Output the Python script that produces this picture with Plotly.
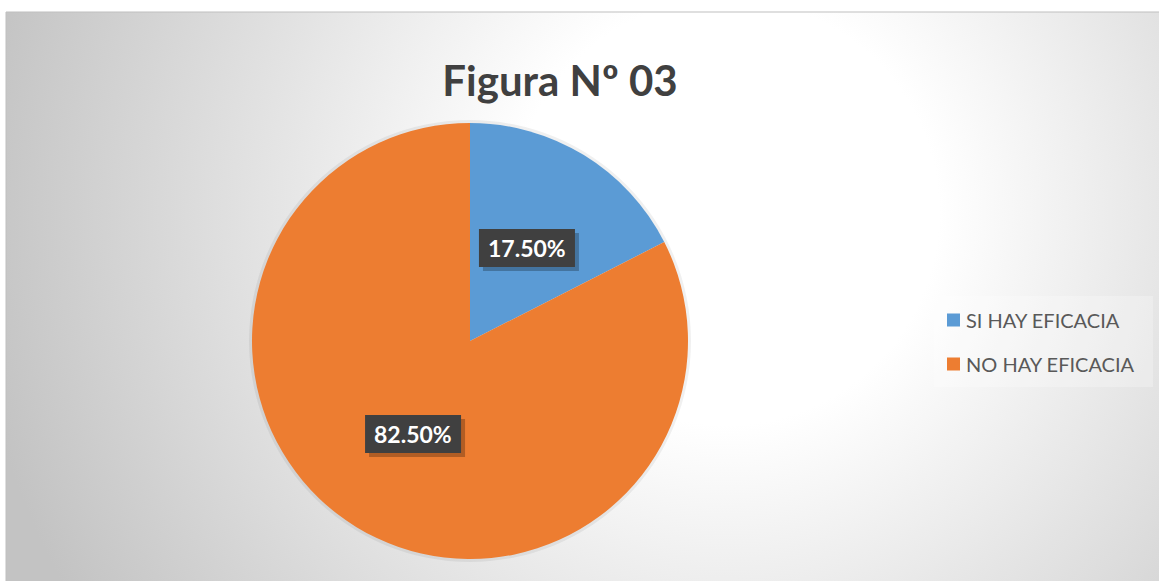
import base64
import math
import plotly.graph_objects as go

# ---- data ----
categories = ["SI HAY EFICACIA", "NO HAY EFICACIA"]
values = [17.5, 82.5]
label_texts = ["17.50%", "82.50%"]
colors = ["#5B9BD5", "#ED7D31"]
title_text = "Figura Nº 03"

W, H = 1159, 581
CX, CY, R = 470, 341, 218  # pie centre / radius in px
BW, BH = 96, 38            # label box size in px


def px(x):
    return x / W


def py(y):
    return 1 - y / H


# radial gradient background as inline svg
svg = f'''<svg xmlns="http://www.w3.org/2000/svg" width="{W-6}" height="{H-12}" viewBox="0 0 {W-6} {H-12}">
<defs><radialGradient id="g" gradientUnits="userSpaceOnUse" cx="720" cy="200" r="760">
<stop offset="0" stop-color="#ffffff"/><stop offset="0.28" stop-color="#ffffff"/>
<stop offset="0.6" stop-color="#e4e4e4"/><stop offset="1" stop-color="#c3c3c3"/></radialGradient></defs>
<rect width="100%" height="100%" fill="url(#g)"/></svg>'''
src = "data:image/svg+xml;base64," + base64.b64encode(svg.encode()).decode()

fig = go.Figure(go.Pie(
    labels=categories, values=values, sort=False, direction="clockwise", rotation=0,
    marker=dict(colors=colors, line=dict(width=0)), textinfo="none", hoverinfo="label+percent",
    domain=dict(x=[px(CX - R), px(CX + R)], y=[py(CY + R), py(CY - R)]),
    showlegend=False,
))

annotations = []
shapes = [
    dict(type="line", xref="paper", yref="paper", x0=px(6), x1=1, y0=py(12), y1=py(12),
         line=dict(color="#bfbfbf", width=1)),
    dict(type="line", xref="paper", yref="paper", x0=px(6), x1=px(6), y0=0, y1=py(12),
         line=dict(color="#bfbfbf", width=1)),
    dict(type="rect", xref="paper", yref="paper", x0=px(934), x1=px(1153), y0=py(387), y1=py(296),
         fillcolor="rgba(255,255,255,0.25)", line=dict(width=0), layer="below"),
    # soft glow around the pie
    dict(type="circle", xref="paper", yref="paper", x0=px(CX - R - 3), x1=px(CX + R + 3),
         y0=py(CY + R + 3), y1=py(CY - R - 3), fillcolor="rgba(0,0,0,0.06)", line=dict(width=0),
         layer="below"),
]

# data labels at mid-angle of each slice
total = sum(values)
cum = 0
for v, t in zip(values, label_texts):
    mid = (cum + v / 2) / total * 2 * math.pi
    cum += v
    lx = CX + 0.5 * R * math.sin(mid)
    ly = CY - 0.5 * R * math.cos(mid)
    # shadow
    shapes.append(dict(type="rect", xref="paper", yref="paper",
                       x0=px(lx - BW / 2 + 4), x1=px(lx + BW / 2 + 4),
                       y0=py(ly + BH / 2 + 4), y1=py(ly - BH / 2 + 4),
                       fillcolor="rgba(0,0,0,0.25)", line=dict(width=0)))
    shapes.append(dict(type="rect", xref="paper", yref="paper",
                       x0=px(lx - BW / 2), x1=px(lx + BW / 2),
                       y0=py(ly + BH / 2), y1=py(ly - BH / 2),
                       fillcolor="#404040", line=dict(width=0)))
    annotations.append(dict(x=px(lx), y=py(ly), xref="paper", yref="paper", text="<b>" + t + "</b>",
                            xanchor="center", yanchor="middle",
                            showarrow=False, font=dict(family="Lato", size=23, color="white")))

# legend (manual)
leg_y = [320, 364]
for cat, col, yy in zip(categories, colors, leg_y):
    shapes.append(dict(type="rect", xref="paper", yref="paper", x0=px(947), x1=px(960),
                       y0=py(yy + 6.5), y1=py(yy - 6.5), fillcolor=col, line=dict(width=0)))
    annotations.append(dict(x=px(964), y=py(yy), xref="paper", yref="paper", text=cat, showarrow=False,
                            xanchor="left", yanchor="middle",
                            font=dict(family="Lato", size=20, color="#595959")))

fig.update_layout(
    width=W, height=H, margin=dict(l=0, r=0, t=0, b=0),
    paper_bgcolor="white", plot_bgcolor="white",
    title=dict(text="<b>" + title_text + "</b>", x=px(560), xanchor="center", y=py(81), yanchor="middle",
               font=dict(family="Lato", size=42, color="#404040")),
    images=[dict(source=src, xref="paper", yref="paper", x=px(6), y=py(12), sizex=1 - px(6), sizey=py(12),
                 xanchor="left", yanchor="top", sizing="stretch", layer="below")],
    shapes=shapes, annotations=annotations,
)

fig.write_html("out.html", config={"displayModeBar": False},
               post_script="document.body.style.margin='0';")
